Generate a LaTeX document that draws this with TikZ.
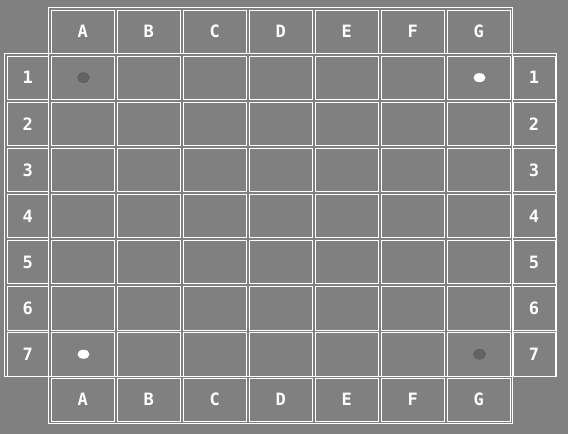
\documentclass[tikz,border=0pt]{standalone}
\usepackage{fontspec}
\setmainfont{DejaVu Sans Mono}
\usetikzlibrary{shapes.geometric}
\definecolor{boardGray}{HTML}{808080}
\definecolor{stoneDark}{HTML}{636363}
\definecolor{stoneEdge}{HTML}{5A5A5A}
\tikzset{
  board cell/.style={draw=white,line width=0.8pt,minimum width=63.6pt,
    minimum height=43.5pt,inner sep=0pt,anchor=north west},
  file cell/.style={board cell,minimum height=43pt},
  rank cell/.style={board cell,minimum width=41.8pt},
  coord label/.style={text=white,font=\bfseries\fontsize{17}{17}\selectfont},
  frame line/.style={draw=white,line width=0.8pt},
  white stone/.style={ellipse,fill=white,minimum width=12pt,
    minimum height=9pt,inner sep=0pt},
  dark stone/.style={ellipse,fill=stoneDark,draw=stoneEdge,line width=0.5pt,
    minimum width=12pt,minimum height=10pt,inner sep=0pt}
}
\begin{document}
\begin{tikzpicture}[x=1pt,y=-1pt]
  \fill[boardGray] (0,0) rectangle (568,434);
  \useasboundingbox (0,0) rectangle (568,434);
  % the two outer frames
  \draw[frame line] (48.3,7.3) rectangle (512.5,423.3);
  \draw[frame line] (4.3,53.3) rectangle (556.3,376.7);
  % files with their cells
  \foreach \f [count=\i from 0] in {A,B,C,D,E,F,G} {
    \foreach \r [evaluate=\r as \y using 55.5+46.1*(\r-1)] in {1,...,7}
      \node[board cell] (cell-\f\r) at ({50.5+66*\i},\y) {};
    \node[file cell,coord label] (top-\f) at ({50.5+66*\i},9.5) {\f};
    \node[file cell,coord label] (bot-\f) at ({50.5+66*\i},377.8) {\f};
  }
  % ranks
  \foreach \r [evaluate=\r as \y using 55.5+46.1*(\r-1)] in {1,...,7} {
    \node[rank cell,coord label] (left-\r) at (6.5,\y) {\r};
    \node[rank cell,coord label] (right-\r) at (512.8,\y) {\r};
  }
  % stones
  \node[dark stone] (stone-A1) at ([xshift=0.8pt]cell-A1.center) {};
  \node[white stone] (stone-G1) at ([xshift=0.8pt]cell-G1.center) {};
  \node[white stone] (stone-A7) at ([xshift=0.8pt]cell-A7.center) {};
  \node[dark stone] (stone-G7) at ([xshift=0.8pt]cell-G7.center) {};
\end{tikzpicture}
\end{document}
